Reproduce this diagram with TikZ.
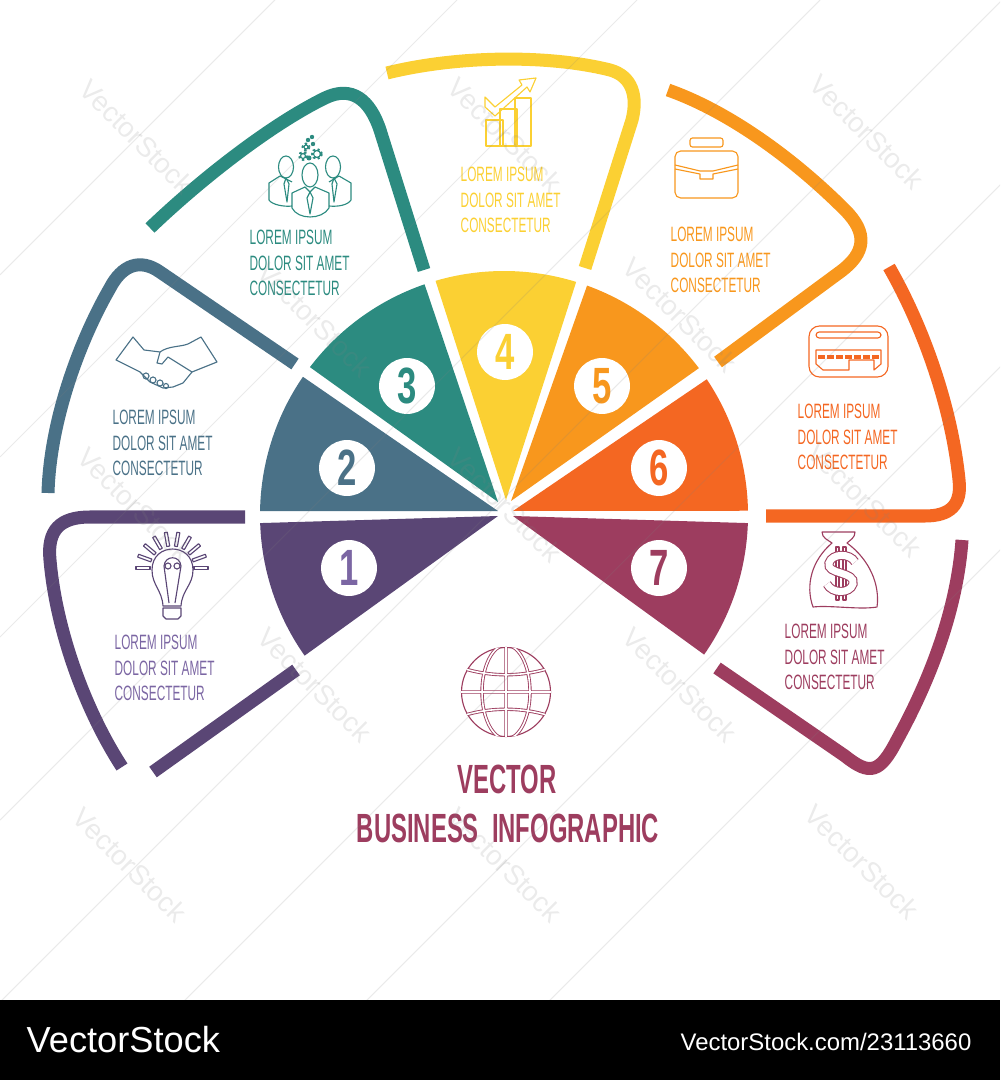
\documentclass[tikz,border=0pt]{standalone}
\usepackage{fontspec}
\usepackage{tikz}
\setmainfont{Liberation Sans}
\newfontfamily\thinfont[FakeStretch=0.57]{Liberation Sans}
\newfontfamily\headfont[FakeStretch=0.585]{Liberation Sans}
\newfontfamily\numfont[FakeStretch=0.68]{Liberation Sans}
\usetikzlibrary{positioning,calc}

\definecolor{colone}{HTML}{5A4675}
\definecolor{coltwo}{HTML}{4A7187}
\definecolor{colthree}{HTML}{2C8B80}
\definecolor{colfour}{HTML}{FBD033}
\definecolor{colfive}{HTML}{F8971D}
\definecolor{colsix}{HTML}{F46722}
\definecolor{colseven}{HTML}{9D3D5F}
\definecolor{colonetext}{HTML}{7B66A3}

\tikzset{
    frame/.style={line width=3.7pt},
    icon/.style={line width=0.32pt, line join=round},
    gearteeth/.style={line width=0.8pt, dash pattern=on 0.6pt off 0.6pt},
    numdot/.style={circle, fill=white, minimum size=15.9pt, inner sep=0pt,
        font=\fontsize{14.5}{14.5}\numfont\bfseries},
    lorem/.style={anchor=west, align=left, inner sep=0pt,
        font=\fontsize{5.9}{7.3}\selectfont\thinfont},
    title/.style={inner sep=0pt, text=colseven,
        font=\fontsize{11.6}{11.6}\headfont\bfseries},
    wmark/.style={rotate=-45, text=gray, opacity=0.16, inner sep=0pt,
        font=\fontsize{7.9}{7.9}\selectfont}
}

\begin{document}
\begin{tikzpicture}[x=0.01cm,y=-0.01cm]
    \useasboundingbox (0,0) rectangle (1000,1080);
    \coordinate (fan) at (504,515);

    % Sectors
    \fill[colone] (498,516) -- ($(fan)+(178.1:244)$) arc[start angle=178.1,end angle=144.8,radius=244] -- cycle;
    \fill[coltwo] (498,511) -- ($(fan)+(180.9:244)$) arc[start angle=180.9,end angle=214.5,radius=244] -- cycle;
    \fill[colthree] (498,502) -- ($(fan)+(217.3:244)$) arc[start angle=217.3,end angle=251,radius=244] -- cycle;
    \fill[colfour] (506,500) -- ($(fan)+(253.7:244)$) arc[start angle=253.7,end angle=287.2,radius=244] -- cycle;
    \fill[colfive] (511,501) -- ($(fan)+(289.9:244)$) arc[start angle=289.9,end angle=323,radius=244] -- cycle;
    \fill[colsix] (513,511) -- ($(fan)+(326.2:244)$) arc[start angle=326.2,end angle=359,radius=244] -- cycle;
    \fill[colseven] (513,516) -- ($(fan)+(1.9:244)$) arc[start angle=1.9,end angle=34.9,radius=244] -- cycle;

    % Numbers
    \node[numdot,text=colonetext] (num1) at (349,568) {1};
    \node[numdot,text=coltwo] (num2) at (347,468) {2};
    \node[numdot,text=colthree] (num3) at (407,386) {3};
    \node[numdot,text=colfour] (num4) at (505,352) {4};
    \node[numdot,text=colfive] (num5) at (602,386) {5};
    \node[numdot,text=colsix] (num6) at (659,468) {6};
    \node[numdot,text=colseven] (num7) at (659,568) {7};

    % Frames
    \draw[frame,colone] (245,517) -- (90,517) .. controls (60,517) and (47,530) .. (50,560) .. controls (56,630) and (85,710) .. (122,767);
    \draw[frame,colone] (153,772) -- (296,670);
    \draw[frame,coltwo] (48,493) .. controls (50,420) and (80,340) .. (110,288) .. controls (122,265) and (140,258) .. (160,272) -- (295,364);
    \draw[frame,colthree] (150,228) .. controls (200,180) and (270,125) .. (325,98) .. controls (352,85) and (370,100) .. (380,130) -- (424,270);
    \draw[frame,colfour] (387,73) .. controls (460,55) and (550,55) .. (610,70) .. controls (632,76) and (638,96) .. (632,120) -- (585,268);
    \draw[frame,colfive] (668,90) .. controls (725,110) and (790,155) .. (845,210) .. controls (868,233) and (866,253) .. (840,272) -- (718,362);
    \draw[frame,colsix] (889,267) .. controls (925,330) and (952,410) .. (959,480) .. controls (962,505) and (950,516) .. (925,516) -- (766,516);
    \draw[frame,colseven] (962,540) .. controls (957,610) and (930,680) .. (897,740) .. controls (880,773) and (870,776) .. (845,756) -- (717,668);

    % Texts
    \node[lorem,text=colonetext] (text1) at (114,668) {LOREM IPSUM\\DOLOR SIT AMET\\CONSECTETUR};
    \node[lorem,text=coltwo] (text2) at (112,443) {LOREM IPSUM\\DOLOR SIT AMET\\CONSECTETUR};
    \node[lorem,text=colthree] (text3) at (249,263) {LOREM IPSUM\\DOLOR SIT AMET\\CONSECTETUR};
    \node[lorem,text=colfour] (text4) at (460,200) {LOREM IPSUM\\DOLOR SIT AMET\\CONSECTETUR};
    \node[lorem,text=colfive] (text5) at (670,260) {LOREM IPSUM\\DOLOR SIT AMET\\CONSECTETUR};
    \node[lorem,text=colsix] (text6) at (797,437) {LOREM IPSUM\\DOLOR SIT AMET\\CONSECTETUR};
    \node[lorem,text=colseven] (text7) at (784,657) {LOREM IPSUM\\DOLOR SIT AMET\\CONSECTETUR};
    \node[title] (vector) at (507,779) {VECTOR};
    \node[title] (business) at (508,828) {BUSINESS\ \ INFOGRAPHIC};

    % Bulb
    \coordinate (bulb) at (172,568);
    \draw[icon,colone] (163,606) .. controls (162,590) and (152,585) .. (152,570) .. controls (152,542) and (193,542) .. (193,570) .. controls (193,585) and (182,590) .. (181,606) -- cycle;
    \draw[icon,colone] (163,608) -- (163,616) -- (166,619) -- (178,619) -- (181,616) -- (181,608) -- cycle;
    \draw[icon,colone] (168,566) circle (3) (177,566) circle (3);
    \draw[icon,colone] (164,566) .. controls (165,555) and (180,555) .. (181,566) -- (175,603) (164,566) -- (169,603);
    \foreach \a in {0,20,40,60,80,100,120,140,160,180}
        \draw[icon,colone,rotate around={\a:(bulb)}] ($(bulb)+(22,-1.5)$) rectangle +(14,3);

    % Handshake
    \draw[icon,coltwo] (116,360) -- (133,337) -- (144,350) -- (160,352) .. controls (168,346) and (180,347) .. (188,344) -- (201,337) -- (217,362) -- (192,372) -- (183,383) -- (173,387) -- (163,388) -- (150,382) -- (140,372) -- cycle;
    \draw[icon,coltwo] (160,352) -- (157,363) -- (162,364) -- (168,357) -- (192,372);
    \draw[icon,coltwo] (146,376) circle (3) (153,380) circle (3) (160,383) circle (3) (166,386) circle (2.5);

    % People
    \draw[icon,colthree] (310,175) ellipse (8 and 12) (286,167) ellipse (7.5 and 11) (333,167) ellipse (7.5 and 11);
    \draw[icon,colthree] (292,193) -- (305,187) -- (310,192) -- (315,187) -- (329,193) -- (329,208) .. controls (322,220) and (298,220) .. (292,208) -- cycle;
    \draw[icon,colthree] (292,182) -- (280,176) -- (269,183) -- (269,200) .. controls (272,205) and (285,207) .. (292,206);
    \draw[icon,colthree] (329,182) -- (339,176) -- (351,183) -- (351,200) .. controls (348,205) and (338,207) .. (329,206);
    \draw[icon,colthree] (310,192) -- (307,198) -- (310,214) -- (313,198) -- cycle (286,178) -- (284,184) -- (287,202) -- (289,184) -- cycle (334,178) -- (332,184) -- (334,202) -- (337,184) -- cycle;
    \draw[icon,colthree] (317,154) circle (3.5) (303,156) circle (2.5) (306,147) circle (2);
    \draw[gearteeth,colthree] (317,154) circle (4.5) (303,156) circle (3.5) (306,147) circle (3);
    \fill[colthree] (309,158) circle (2.5) (313,144) circle (2.2) (308,140) circle (2.2) (312,137) circle (2.2);

    % Chart
    \draw[icon,colfour] (486,120) rectangle (503,146) (500,109) rectangle (517,146) (515,98) rectangle (531,146);
    \draw[icon,colfour] (485,97) -- (495,107) -- (522,85) -- (519,80) -- (536,78) -- (530,92) -- (527,87) -- (495,116) -- (485,107) -- cycle;

    % Briefcase
    \draw[icon,colfive,rounded corners=0.7pt] (690,147) -- (690,138) -- (723,138) -- (723,147) -- cycle;
    \draw[icon,colfive,rounded corners=1.6pt] (675,151) rectangle (738,198);
    \draw[icon,colfive] (675,165) -- (700,171) -- (713,171) -- (738,165) (675,169) -- (700,174) -- (700,179) -- (713,179) -- (713,174) -- (738,169);

    % Card
    \draw[icon,colsix,rounded corners=3pt] (809,326) rectangle (888,377);
    \draw[icon,colsix,rounded corners=0.9pt] (816,338) -- (816,332) -- (881,332) -- (881,338) -- cycle;
    \draw[icon,colsix] (816,350) -- (816,364) -- (823,370) -- (849,370) -- (849,360) -- (874,360) -- (874,370) -- (881,364) -- (881,350) -- cycle;
    \foreach \x in {818,827,836,845,854,863,872}
        \fill[colsix] (\x,355) rectangle +(7,4.5);

    % Bag
    \draw[icon,colseven] (822,532) -- (855,532) .. controls (855,538) and (850,540) .. (847,543) .. controls (870,560) and (880,585) .. (877,607) .. controls (860,610) and (830,605) .. (813,607) .. controls (805,585) and (812,560) .. (832,543) .. controls (828,540) and (822,538) .. (822,532) -- cycle;
    \draw[icon,colseven] (836,547) rectangle (839,600) (843,547) rectangle (846,600);
    \draw[colseven,line width=2.6pt] (855,562) .. controls (850,553) and (832,553) .. (829,563) .. controls (826,575) and (856,571) .. (853,584) .. controls (850,594) and (832,594) .. (827,584);
    \draw[white,line width=2pt] (855,562) .. controls (850,553) and (832,553) .. (829,563) .. controls (826,575) and (856,571) .. (853,584) .. controls (850,594) and (832,594) .. (827,584);

    % Globe
    \coordinate (globe) at (506,692);
    \draw[icon,colseven] (globe) circle (44.5);
    \begin{scope}
        \clip (globe) circle (45);
        \def\globegrid{(506,645) -- (506,740) (435,692) -- (577,692) (506,692) ellipse (24 and 47) (462,668) .. controls (490,677) and (522,677) .. (550,668) (462,716) .. controls (490,707) and (522,707) .. (550,716)}
        \draw[colseven,line width=0.95pt] \globegrid;
        \draw[white,line width=0.45pt] \globegrid;
    \end{scope}

    % Watermark
    \begin{scope}
        \clip (0,0) rectangle (1000,1000);
        \foreach \k in {275,457,637,820,1002,1185,1367,1550}
            \draw[gray,opacity=0.17,line width=0.3pt] (\k,0) -- (0,\k);
    \end{scope}
    \foreach \x/\y [count=\i] in {137/137,505/135,867/132,315/320,680/315,135/505,505/505,865/500,315/685,680/685,130/865,505/865,862/862}
        \node[wmark] (stamp\i) at (\x,\y) {VectorStock};

    % Bar
    \fill[black] (0,1000) rectangle (1000,1080);
    \node[white,inner sep=0pt,anchor=west,font=\fontsize{10.3}{10.3}\selectfont] (logo) at (26,1040) {VectorStock};
    \node[white,inner sep=0pt,anchor=east,font=\fontsize{6.8}{6.8}\selectfont] (link) at (972,1042) {VectorStock.com/23113660};
\end{tikzpicture}
\end{document}
